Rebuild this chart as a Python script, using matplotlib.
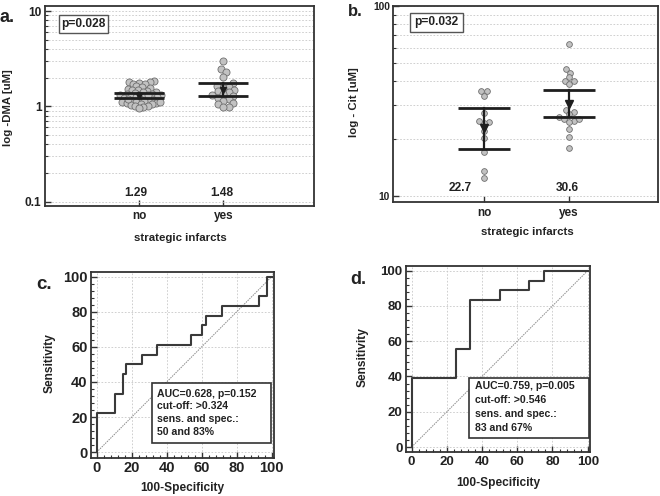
import numpy as np
import matplotlib
matplotlib.use('Agg')
import matplotlib.pyplot as plt
from matplotlib.ticker import FixedLocator, NullFormatter, AutoMinorLocator, FixedFormatter
from matplotlib.patches import Rectangle

plt.rcParams['font.family'] = ['Liberation Sans', 'DejaVu Sans']
plt.rcParams['font.weight'] = 'bold'
plt.rcParams['axes.labelweight'] = 'bold'

# ---------------- data ----------------
groups = ['no', 'yes']

dma_no = [1.85, 1.80, 1.78, 1.75, 1.72, 1.70, 1.62, 1.58, 1.55, 1.52, 1.50, 1.48,
          1.45, 1.42, 1.40, 1.38, 1.36, 1.35, 1.33, 1.31, 1.30, 1.28, 1.27, 1.25,
          1.24, 1.22, 1.20, 1.19, 1.17, 1.15, 1.14, 1.12, 1.10, 1.09, 1.08, 1.06,
          1.05, 1.04, 1.02, 1.00, 0.98, 0.96, 1.10, 1.20, 1.30]
dma_yes = [3.0, 2.45, 2.3, 2.05, 1.75, 1.65, 1.6, 1.55, 1.5, 1.45, 1.4, 1.35,
           1.3, 1.28, 1.22, 1.18, 1.15, 1.08, 1.05, 0.98, 0.98]
dma_mean = [1.29, 1.48]
dma_ci_low = [1.22, 1.29]
dma_ci_high = [1.37, 1.75]
dma_p = 'p=0.028'

cit_no = [35.5, 35.5, 33.7, 27.2, 24.5, 24.3, 24.8, 22.0, 20.1, 17.1, 13.5, 12.4]
cit_yes = [62.8, 46.5, 44.6, 42.0, 40.0, 40.4, 38.7, 28.4, 27.7, 27.0, 25.9, 24.9,
           25.3, 25.3, 24.6, 22.5, 20.4, 17.8]
cit_mean = [22.7, 30.6]
cit_ci_low = [17.7, 26.0]
cit_ci_high = [28.9, 36.1]
cit_p = 'p=0.032'

roc_c_x = [0, 0, 10.6, 14.8, 16.7, 25.8, 34.7, 54.0, 60.2, 62.7, 71.6, 93.0, 97.5, 100]
roc_c_y = [0, 22.2, 33.3, 44.4, 50.0, 55.6, 61.1, 66.7, 72.2, 77.8, 83.3, 88.9, 100, 100]
roc_c_text = ['AUC=0.628, p=0.152', 'cut-off: >0.324', 'sens. and spec.:', '50 and 83%']

roc_d_x = [0, 0, 25.0, 33.3, 50.0, 66.7, 75.0, 100]
roc_d_y = [0, 38.9, 55.6, 83.3, 88.9, 94.4, 100, 100]
roc_d_text = ['AUC=0.759, p=0.005', 'cut-off: >0.546', 'sens. and spec.:', '83 and 67%']

TXT = '#222222'
SPINE = '#333333'
GRID = '#c8c8c8'

W, H = 660, 496
fig = plt.figure(figsize=(W / 100, H / 100), dpi=100)


def add_ax(left, top, right, bottom):
    return fig.add_axes([left / W, 1 - bottom / H, (right - left) / W, (bottom - top) / H])


def style_spines(ax):
    for s in ax.spines.values():
        s.set_color(SPINE)
        s.set_linewidth(1.3)


def swarm(ax, xc, vals, gap_px):
    vals = np.asarray(vals, float)
    pts = ax.transData.transform(np.column_stack([np.full(len(vals), xc), vals]))
    ys = pts[:, 1]
    pxx = ax.transData.transform((1, 1))[0] - ax.transData.transform((0, 1))[0]
    order = np.argsort(vals)
    step = gap_px / 6.0
    cands = [0.0]
    for k in range(1, 300):
        cands += [k * step, -k * step]
    placed = []
    offs = np.zeros(len(vals))
    for i in order:
        y = ys[i]
        for c in cands:
            if all((c - px) ** 2 + (y - py) ** 2 >= gap_px ** 2 for px, py in placed):
                break
        placed.append((c, y))
        offs[i] = c
    return xc + offs / pxx


def dot_panel(ax, data_lists, means, lo, hi, ylim, ylabels_major, minor_vals, tick_fs,
              dot_s, gaps, halfw, pval, pbox, mean_label_x, mean_label_y, xlim, tri_ms):
    ax.set_yscale('log')
    ax.set_ylim(*ylim)
    ax.set_xlim(*xlim)
    xs = np.arange(1, len(groups) + 1)
    ax.yaxis.set_major_locator(FixedLocator(ylabels_major))
    ax.yaxis.set_major_formatter(FixedFormatter([('%g' % v) for v in ylabels_major]))
    ax.yaxis.set_minor_locator(FixedLocator(minor_vals))
    ax.yaxis.set_minor_formatter(NullFormatter())
    ax.set_xticks(xs)
    ax.set_xticklabels(groups)
    ax.grid(which='both', axis='y', color=GRID, linestyle=(0, (2, 2)), linewidth=0.6)
    ax.set_axisbelow(True)
    style_spines(ax)
    ax.tick_params(axis='y', which='major', direction='in', length=4, width=1, colors=SPINE,
                   labelsize=tick_fs, labelcolor=TXT, pad=2.5)
    ax.tick_params(axis='y', which='minor', direction='in', length=2, width=0.8, colors=SPINE)
    ax.tick_params(axis='x', direction='in', length=4, width=1, colors=SPINE,
                   labelsize=8.5, labelcolor=TXT, pad=3.5)
    for xc, vals, gap in zip(xs, data_lists, gaps):
        xx = swarm(ax, xc, vals, gap)
        ax.scatter(xx, vals, s=dot_s, facecolor='#c2c2c2', edgecolor='#6e6e6e',
                   linewidth=0.6, zorder=3)
    for xc, m, l, h, lx in zip(xs, means, lo, hi, mean_label_x):
        ax.plot([xc - halfw, xc + halfw], [h, h], color='#1e1e1e', lw=2.0, zorder=4,
                solid_capstyle='butt')
        ax.plot([xc - halfw, xc + halfw], [l, l], color='#1e1e1e', lw=2.0, zorder=4,
                solid_capstyle='butt')
        ax.plot([xc, xc], [l, h], color='#1e1e1e', lw=1.6, zorder=4)
        ax.plot([xc], [m], marker='v', ms=tri_ms, color='#1e1e1e', zorder=5)
        ax.text(xc + lx, mean_label_y, '%g' % m, transform=ax.get_xaxis_transform(),
                ha='center', va='center', fontsize=8.6, color=TXT, fontweight='bold')
    x0, y0, x1, y1 = pbox
    ax.add_patch(Rectangle((x0, y0), x1 - x0, y1 - y0, transform=ax.transAxes,
                           facecolor='white', edgecolor='#555555', lw=1.0, zorder=6))
    ax.text((x0 + x1) / 2, (y0 + y1) / 2, pval, transform=ax.transAxes, ha='center',
            va='center', fontsize=8.6, color=TXT, fontweight='bold', zorder=7)


# ---------------- panel a ----------------
axa = add_ax(45, 6, 314, 205.5)
dot_panel(axa, [dma_no, dma_yes], dma_mean, dma_ci_low, dma_ci_high,
          (0.091, 11.3), [0.1, 1, 10],
          [0.2, 0.3, 0.4, 0.5, 0.6, 0.7, 0.8, 0.9, 2, 3, 4, 5, 6, 7, 8, 9],
          8.6, 26, [4.2, 5.4], 0.3, dma_p, (0.053, 0.863, 0.235, 0.955),
          [-0.04, -0.02], 0.064, (-0.12, 3.08), 5.0)
axa.text(0.502, -0.161, 'strategic infarcts', transform=axa.transAxes, ha='center',
         va='center', fontsize=8.2, color=TXT, fontweight='bold')
axa.text(-0.1375, 0.49, 'log -DMA [uM]', transform=axa.transAxes, ha='center',
         va='center', rotation=90, fontsize=8.2, color=TXT, fontweight='bold')

# ---------------- panel b ----------------
axb = add_ax(393.3, 6, 658, 201.7)
dot_panel(axb, [cit_no, cit_yes], cit_mean, cit_ci_low, cit_ci_high,
          (9.3, 100), [10, 100],
          [20, 30, 40, 50, 60, 70, 80, 90],
          7.4, 17, [5.0, 5.0], 0.31, cit_p, (0.063, 0.869, 0.264, 0.963),
          [-0.28, -0.02], 0.068, (-0.07, 3.05), 5.8)
axb.text(0.505, -0.153, 'strategic infarcts', transform=axb.transAxes, ha='center',
         va='center', fontsize=8.2, color=TXT, fontweight='bold')
axb.text(-0.148, 0.507, 'log - Cit [uM]', transform=axb.transAxes, ha='center',
         va='center', rotation=90, fontsize=8.2, color=TXT, fontweight='bold')


# ---------------- ROC panels ----------------
def roc_panel(ax, xs, ys, lines, box, text_x, text_ys, tick_fs, ylab_x, xlab_y):
    ax.set_xlim(-3.2, 101.3)
    ax.set_ylim(-3.0, 102.8)
    ticks = [0, 20, 40, 60, 80, 100]
    ax.set_xticks(ticks)
    ax.set_yticks(ticks)
    ax.xaxis.set_minor_locator(AutoMinorLocator(5))
    ax.yaxis.set_minor_locator(AutoMinorLocator(5))
    ax.grid(which='major', color=GRID, linestyle=(0, (2, 2)), linewidth=0.6)
    ax.set_axisbelow(True)
    style_spines(ax)
    ax.tick_params(which='major', direction='in', length=4, width=1, colors=SPINE,
                   labelsize=tick_fs, labelcolor=TXT, pad=2.5)
    ax.tick_params(which='minor', direction='in', length=2, width=0.8, colors=SPINE)
    ax.plot([0, 100], [0, 100], color='#8a8a8a', lw=0.7, linestyle=(0, (1.5, 1)), zorder=2)
    ax.plot(xs, ys, drawstyle='steps-post', color='#3a3a3a', lw=1.5, zorder=3)
    x0, y0, x1, y1 = box
    ax.add_patch(Rectangle((x0, y0), x1 - x0, y1 - y0, facecolor='white',
                           edgecolor='#333333', lw=1.2, zorder=5))
    for t, ty in zip(lines, text_ys):
        ax.text(text_x, ty, t, ha='left', va='center', fontsize=7.6, color=TXT,
                fontweight='bold', zorder=6)
    ax.text(0.5, xlab_y, '100-Specificity', transform=ax.transAxes, ha='center',
            va='center', fontsize=8.6, color=TXT, fontweight='bold')
    ax.text(ylab_x, 0.51, 'Sensitivity', transform=ax.transAxes, ha='center',
            va='center', rotation=90, fontsize=8.6, color=TXT, fontweight='bold')


axc = add_ax(91, 271.7, 274, 457.5)
roc_panel(axc, roc_c_x, roc_c_y, roc_c_text, (31.8, 5.5, 99.4, 39.6), 34.7,
          [33.4, 26.5, 19.0, 11.6], 10.5, -0.228, -0.166)

axd = add_ax(406, 265.7, 590, 452.3)
roc_panel(axd, roc_d_x, roc_d_y, roc_d_text, (32.4, 5.3, 100.9, 39.4), 35.8,
          [34.8, 26.8, 18.6, 10.6], 9.5, -0.234, -0.166)

# panel letters
for lbl, px, py, fs in [('a.', 0, 21.7, 13), ('b.', 348, 16.5, 12),
                        ('c.', 36.7, 289.3, 13.5), ('d.', 350, 284.3, 13)]:
    fig.text(px / W, 1 - py / H, lbl, ha='left', va='baseline', fontsize=fs,
             color=TXT, fontweight='bold')

fig.savefig('out.png', dpi=100)
